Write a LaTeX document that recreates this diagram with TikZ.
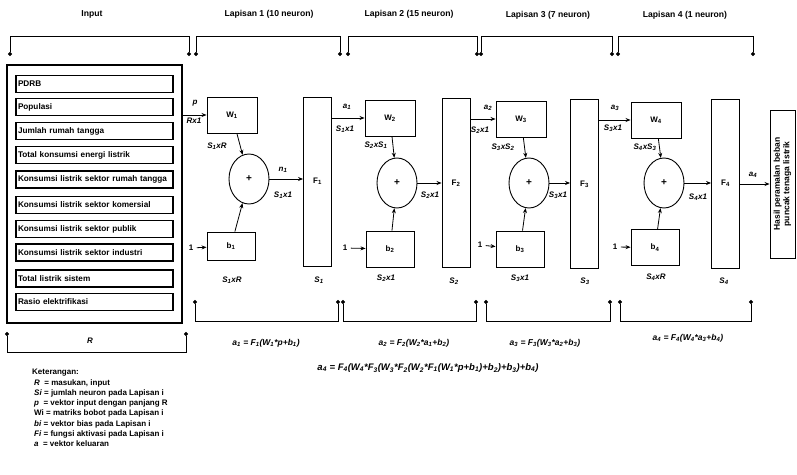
\documentclass[tikz,border=0pt]{standalone}
\usepackage{fontspec}
\setmainfont{Liberation Sans}
\usetikzlibrary{arrows.meta,shapes.geometric}
\newcommand{\lsub}[1]{\textsubscript{#1}}

\begin{document}
\begin{tikzpicture}[x=1pt, y=-1pt,
	every node/.style = {font=\fontsize{8}{9}\selectfont\bfseries},
	box/.style = {draw, line width=0.9pt, inner sep=0pt},
	wbox/.style = {box, minimum width=50pt, minimum height=36pt},
	bbox/.style = {box, minimum width=48pt, minimum height=34pt},
	fbox/.style = {box, minimum width=28pt, minimum height=169pt},
	item/.style = {box, line width=1.1pt, minimum width=157pt, minimum height=17pt, inner xsep=2pt, text width=153pt, align=left, font=\fontsize{8.2}{9}\selectfont\bfseries},
	sum/.style = {draw, ellipse, line width=0.9pt, minimum width=40pt, minimum height=50pt, inner sep=0pt, font=\fontsize{10}{10}\selectfont\bfseries},
	lbl/.style = {font=\fontsize{8}{9}\selectfont\bfseries\itshape, inner sep=1pt},
	ttl/.style = {font=\fontsize{8.6}{10}\selectfont\bfseries},
	eqn/.style = {font=\fontsize{8.5}{9}\selectfont\bfseries\itshape},
	leg/.style = {font=\fontsize{8}{9}\selectfont\bfseries, anchor=west, inner sep=0pt},
	conn/.style = {-{Stealth[length=5pt,width=4pt]}, line width=0.8pt},
	brk/.style = {{Circle[length=4pt]}-{Circle[length=4pt]}, line width=0.8pt},
	]
	\useasboundingbox (0,0) rectangle (797,474);
	
	% titles
	\node[ttl] (tin) at (92,14) {Input};
	\node[ttl] (tl1) at (269,14) {Lapisan 1 (10 neuron)};
	\node[ttl] (tl2) at (409,14) {Lapisan 2 (15 neuron)};
	\node[ttl] (tl3) at (548,15) {Lapisan 3 (7 neuron)};
	\node[ttl] (tl4) at (685,15) {Lapisan 4 (1 neuron)};
	
	% top brackets
	\coordinate (ti1) at (10,56);  \coordinate (ti2) at (189,56);
	\coordinate (ta1) at (196,56); \coordinate (ta2) at (340,56);
	\coordinate (tb1) at (348,56); \coordinate (tb2) at (477,56);
	\coordinate (tc1) at (481,56); \coordinate (tc2) at (612,56);
	\coordinate (td1) at (618,56); \coordinate (td2) at (753,56);
	\draw[brk] (ti1) -- ++(0,-20) -| (ti2);
	\draw[brk] (ta1) -- ++(0,-20) -| (ta2);
	\draw[brk] (tb1) -- ++(0,-20) -| (tb2);
	\draw[brk] (tc1) -- ++(0,-20) -| (tc2);
	\draw[brk] (td1) -- ++(0,-20) -| (td2);
	
	% input
	\node[box, line width=1.3pt, minimum width=175pt, minimum height=258pt] (inbox) at (94.5,194) {};
	\node[item] (x1) at (94.5,84) {PDRB};
	\node[item] (x2) at (94.5,107) {Populasi};
	\node[item] (x3) at (94.5,131) {Jumlah rumah tangga};
	\node[item] (x4) at (94.5,155) {Total konsumsi energi listrik};
	\node[item] (x5) at (94.5,179.5) {Konsumsi listrik sektor rumah tangga};
	\node[item] (x6) at (94.5,205) {Konsumsi listrik sektor komersial};
	\node[item] (x7) at (94.5,229) {Konsumsi listrik sektor publik};
	\node[item] (x8) at (94.5,252.5) {Konsumsi listrik sektor industri};
	\node[item] (x9) at (94.5,278.5) {Total listrik sistem};
	\node[item] (x10) at (94.5,302) {Rasio elektrifikasi};
	
	% layer 1
	\node[wbox] (w1) at (232,115) {W\lsub{1}};
	\node[sum] (s1) at (249,179) {+};
	\node[bbox, minimum height=28pt] (b1) at (231,246) {b\lsub{1}};
	\node[fbox] (f1) at (317.5,181.5) {F\lsub{1}};
	\node (one1) at (191,248) {1};
	\draw[conn] (w1.west -| inbox.east) -- (w1.west);
	\draw[conn] (w1) -- (s1);
	\draw[conn] (b1) -- (s1);
	\draw[conn] (one1) -- (b1);
	\draw[conn] (s1.east) -- (s1.east -| f1.west);
	\node[lbl] (lp) at (195,103) {p};
	\node[lbl] (lr) at (194,121) {Rx1};
	\node[lbl] (lw1) at (217,146) {S\lsub{1}xR};
	\node[lbl] (ln1) at (283,170) {n\lsub{1}};
	\node[lbl] (ls1) at (283,195) {S\lsub{1}x1};
	\node[lbl] (lb1) at (232,280) {S\lsub{1}xR};
	\node[lbl] (lf1) at (319,280) {S\lsub{1}};
	
	% layer 2
	\node[wbox] (w2) at (390,118) {W\lsub{2}};
	\node[sum] (s2) at (397,183) {+};
	\node[bbox, minimum height=36pt] (b2) at (390,249) {b\lsub{2}};
	\node[fbox] (f2) at (456,183) {F\lsub{2}};
	\node (one2) at (345,248) {1};
	\draw[conn] (w2.west -| f1.east) -- (w2.west);
	\draw[conn] (w2) -- (s2);
	\draw[conn] (b2) -- (s2);
	\draw[conn] (one2) -- (b2);
	\draw[conn] (s2.east) -- (s2.east -| f2.west);
	\node[lbl] (la1) at (347,107) {a\lsub{1}};
	\node[lbl] (la1s) at (345,129) {S\lsub{1}x1};
	\node[lbl] (lw2) at (376,145) {S\lsub{2}xS\lsub{1}};
	\node[lbl] (ls2) at (430,195) {S\lsub{2}x1};
	\node[lbl] (lb2) at (386,278) {S\lsub{2}x1};
	\node[lbl] (lf2) at (454,281) {S\lsub{2}};
	
	% layer 3
	\node[wbox] (w3) at (521,119) {W\lsub{3}};
	\node[sum] (s3) at (529,183) {+};
	\node[bbox, minimum height=36pt] (b3) at (520,249) {b\lsub{3}};
	\node[fbox] (f3) at (584.5,184) {F\lsub{3}};
	\node (one3) at (480,245) {1};
	\draw[conn] (w3.west -| f2.east) -- (w3.west);
	\draw[conn] (w3) -- (s3);
	\draw[conn] (b3) -- (s3);
	\draw[conn] (one3) -- (b3);
	\draw[conn] (s3.east) -- (s3.east -| f3.west);
	\node[lbl] (la2) at (488,108) {a\lsub{2}};
	\node[lbl] (la2s) at (480,130) {S\lsub{2}x1};
	\node[lbl] (lw3) at (503,147) {S\lsub{3}xS\lsub{2}};
	\node[lbl] (ls3) at (558,195) {S\lsub{3}x1};
	\node[lbl] (lb3) at (520,278) {S\lsub{3}x1};
	\node[lbl] (lf3) at (585,281) {S\lsub{3}};
	
	% layer 4
	\node[wbox] (w4) at (656,120) {W\lsub{4}};
	\node[sum] (s4) at (664,183) {+};
	\node[bbox, minimum height=36pt] (b4) at (655,247.5) {b\lsub{4}};
	\node[fbox] (f4) at (725.5,183.5) {F\lsub{4}};
	\node (one4) at (615,247) {1};
	\draw[conn] (w4.west -| f3.east) -- (w4.west);
	\draw[conn] (w4) -- (s4);
	\draw[conn] (b4) -- (s4);
	\draw[conn] (one4) -- (b4);
	\draw[conn] (s4.east) -- (s4.east -| f4.west);
	\node[lbl] (la3) at (615,108) {a\lsub{3}};
	\node[lbl] (la3s) at (613,128) {S\lsub{3}x1};
	\node[lbl] (lw4) at (645,147) {S\lsub{4}xS\lsub{3}};
	\node[lbl] (ls4) at (698,197) {S\lsub{4}x1};
	\node[lbl] (lb4) at (656,277) {S\lsub{4}xR};
	\node[lbl] (lf4) at (724,281) {S\lsub{4}};
	
	% output
	\node[box, minimum width=25pt, minimum height=148pt] (out) at (782.5,184) {};
	\node[rotate=90, align=center, font=\fontsize{8.5}{9.5}\selectfont\bfseries] (outtxt) at (out) {Hasil peramalan beban\\puncak tenaga listrik};
	\draw[conn] (out.west -| f4.east) -- (out.west);
	\node[lbl] (la4) at (753,175) {a\lsub{4}};
	
	% bottom brackets
	\coordinate (bi1) at (7,332);   \coordinate (bi2) at (186,332);
	\coordinate (ba1) at (195,300); \coordinate (ba2) at (338,300);
	\coordinate (bb1) at (343,300); \coordinate (bb2) at (476,300);
	\coordinate (bc1) at (486,300); \coordinate (bc2) at (610,300);
	\coordinate (bd1) at (620,300); \coordinate (bd2) at (751,300);
	\draw[brk] (bi1) -- ++(0,20) -| (bi2);
	\draw[brk] (ba1) -- ++(0,21) -| (ba2);
	\draw[brk] (bb1) -- ++(0,21) -| (bb2);
	\draw[brk] (bc1) -- ++(0,21) -| (bc2);
	\draw[brk] (bd1) -- ++(0,21) -| (bd2);
	\node[lbl] (lR) at (90,341) {R};
	
	% equations
	\node[eqn] (e1) at (266,343) {a\lsub{1} = F\lsub{1}(W\lsub{1}*p+b\lsub{1})};
	\node[eqn] (e2) at (414,343) {a\lsub{2} = F\lsub{2}(W\lsub{2}*a\lsub{1}+b\lsub{2})};
	\node[eqn] (e3) at (545,343) {a\lsub{3} = F\lsub{3}(W\lsub{3}*a\lsub{2}+b\lsub{3})};
	\node[eqn] (e4) at (688,338) {a\lsub{4} = F\lsub{4}(W\lsub{4}*a\lsub{3}+b\lsub{4})};
	\node[eqn, font=\fontsize{9.5}{10}\selectfont\bfseries\itshape] (eall) at (428,368) {a\lsub{4} = F\lsub{4}(W\lsub{4}*F\lsub{3}(W\lsub{3}*F\lsub{2}(W\lsub{2}*F\lsub{1}(W\lsub{1}*p+b\lsub{1})+b\lsub{2})+b\lsub{3})+b\lsub{4})};
	
	% legend
	\node[leg] (k0) at (32,373) {Keterangan:};
	\node[leg] (k1) at (34,383) {\textit{R} \ = masukan, input};
	\node[leg] (k2) at (34,393) {\textit{Si} = jumlah neuron pada Lapisan i};
	\node[leg] (k3) at (34,403) {\textit{p} \ = vektor input dengan panjang R};
	\node[leg] (k4) at (34,413) {Wi = matriks bobot pada Lapisan i};
	\node[leg] (k5) at (34,424) {\textit{bi} = vektor bias pada Lapisan i};
	\node[leg] (k6) at (34,434) {\textit{Fi} = fungsi aktivasi pada Lapisan i};
	\node[leg] (k7) at (34,444) {\textit{a} \ = vektor keluaran};
\end{tikzpicture}
\end{document}
